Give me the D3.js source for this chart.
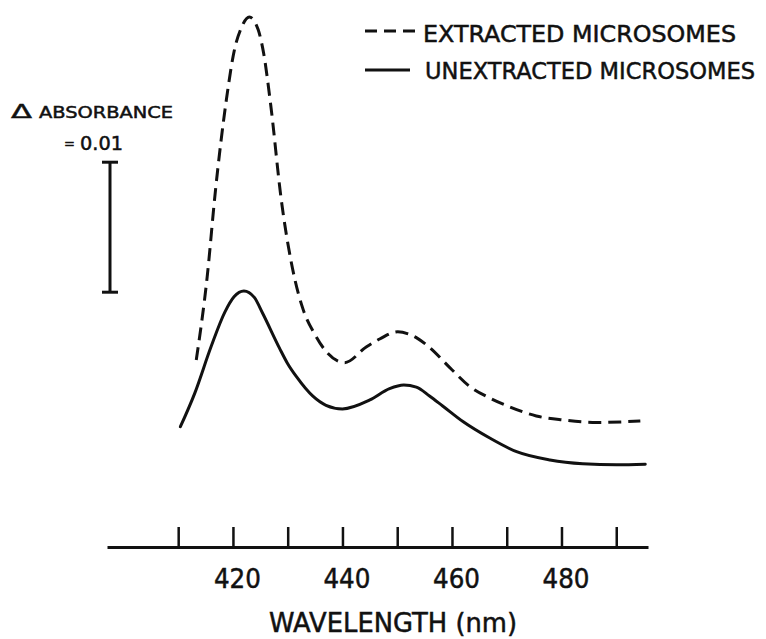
<!DOCTYPE html>
<html>
<head>
  <title>Microsome spectra</title>
  <script src="https://d3js.org/d3.v7.min.js"></script>
  <style type="text/css">
    body { margin: 0; background: #fff; }
    svg { font-family: "DejaVu Sans", sans-serif; }
    svg text { fill: #111; stroke: #111; stroke-width: 0.5; }
  </style>
</head>
<body>
  <div id="chart"></div>

  <script type="text/javascript">
    // wavelength (nm) and absorbance
    var solidNm = [410.4, 413.0, 416.0, 418.5, 420.2, 422.0, 423.9, 425.4, 428.5, 430.0, 431.6, 434.6, 437.0, 440.0,
      445.0, 448.6, 451.2, 453.5, 455.9, 458.3, 462.0, 466.9, 471.8, 477.9, 483.9, 490.1, 495.3];
    var solidAbs = [0.00925, 0.01180, 0.01540, 0.01805, 0.01925, 0.01970, 0.01920, 0.01800, 0.01530, 0.01410, 0.01310, 0.01160, 0.01090, 0.01062,
      0.01131, 0.01218, 0.01246, 0.01230, 0.01162, 0.01085, 0.00965, 0.00838, 0.00733, 0.00669, 0.00640, 0.00632, 0.00636];

    var dashedNm = [413.3, 415.3, 416.8, 418.8, 420.3, 421.4, 423.0, 424.6, 425.6, 426.9, 428.8, 431.3,
      432.8, 434.9, 437.1, 440.4, 444.4, 446.8, 450.1, 452.0, 453.7, 455.9, 459.6, 463.3, 466.9, 470.6,
      475.4, 480.3, 486.4, 494.4];
    var dashedAbs = [0.01438, 0.02080, 0.02740, 0.03440, 0.03830, 0.03980, 0.04077, 0.03980, 0.03800, 0.03400, 0.02680, 0.02060,
      0.01830, 0.01640, 0.01500, 0.01418, 0.01541, 0.01600, 0.01656, 0.01640, 0.01605, 0.01535, 0.01380, 0.01233, 0.01146, 0.01077,
      0.01008, 0.00977, 0.00958, 0.00969];

    var tickNm = [410, 420, 430, 440, 450, 460, 470, 480, 490];
    var legendLabels = ["EXTRACTED MICROSOMES", "UNEXTRACTED MICROSOMES"];
    var scaleBarBase = 0.0196, scaleBarSize = 0.01;

    var width = 766, height = 639;
    var axisY = 547;

    var svg = d3.select("#chart").append("svg")
      .attr("width", width)
      .attr("height", height);

    var x = d3.scaleLinear().domain([397, 495.8]).range([107, 648]);
    var y = d3.scaleLinear().domain([0, 0.04]).range([axisY, 27]);

    var line = d3.line()
      .x(function (d) { return x(d[0]); })
      .y(function (d) { return y(d[1]); })
      .curve(d3.curveMonotoneX);

    var solid = d3.zip(solidNm, solidAbs);
    var dashed = d3.zip(dashedNm, dashedAbs);

    svg.append("path")
      .datum(solid)
      .attr("d", line)
      .attr("fill", "none")
      .attr("stroke", "#111")
      .attr("stroke-width", 3)
      .attr("stroke-linecap", "round");

    svg.append("path")
      .datum(dashed)
      .attr("d", line)
      .attr("fill", "none")
      .attr("stroke", "#111")
      .attr("stroke-width", 3)
      .attr("stroke-dasharray", "13,7");

    // x axis, ticks pointing up
    var xAxis = d3.axisBottom(x)
      .tickValues(tickNm)
      .tickSizeInner(-20)
      .tickSizeOuter(0)
      .tickFormat(function (d) { return d % 20 === 0 ? d : ""; });

    var ax = svg.append("g")
      .attr("transform", "translate(0," + axisY + ")")
      .call(xAxis);
    ax.select(".domain").attr("stroke", "#111").attr("stroke-width", 3);
    ax.selectAll(".tick line").attr("stroke", "#111").attr("stroke-width", 2.5);
    ax.selectAll(".tick text")
      .attr("y", 41)
      .attr("dy", 0)
      .attr("dx", 4)
      .attr("font-size", 27)
      .attr("font-family", "DejaVu Sans")
      .attr("fill", "#111")
      .attr("textLength", function (d) { return d % 20 === 0 ? 47 : null; })
      .attr("lengthAdjust", "spacingAndGlyphs");

    svg.append("text")
      .attr("x", 269)
      .attr("y", 632)
      .attr("font-size", 26)
      .attr("textLength", 248)
      .attr("lengthAdjust", "spacingAndGlyphs")
      .text("WAVELENGTH (nm)");

    // legend
    svg.append("line")
      .attr("x1", 365).attr("x2", 416)
      .attr("y1", 31).attr("y2", 31)
      .attr("stroke", "#111").attr("stroke-width", 3)
      .attr("stroke-dasharray", "12,7");
    svg.append("line")
      .attr("x1", 365).attr("x2", 410)
      .attr("y1", 70).attr("y2", 70)
      .attr("stroke", "#111").attr("stroke-width", 3);
    svg.append("text")
      .attr("x", 423).attr("y", 42)
      .attr("font-size", 23)
      .attr("textLength", 313)
      .attr("lengthAdjust", "spacingAndGlyphs")
      .text(legendLabels[0]);
    svg.append("text")
      .attr("x", 425).attr("y", 79)
      .attr("font-size", 23)
      .attr("textLength", 330)
      .attr("lengthAdjust", "spacingAndGlyphs")
      .text(legendLabels[1]);

    // absorbance scale bar
    svg.append("text")
      .attr("x", 11).attr("y", 118)
      .attr("font-size", 20)
      .attr("textLength", 21)
      .attr("lengthAdjust", "spacingAndGlyphs")
      .text("Δ");
    svg.append("text")
      .attr("x", 39).attr("y", 118)
      .attr("font-size", 16)
      .attr("textLength", 134)
      .attr("lengthAdjust", "spacingAndGlyphs")
      .text("ABSORBANCE");
    svg.append("text")
      .attr("x", 64).attr("y", 148)
      .attr("font-size", 13)
      .text("=");
    svg.append("text")
      .attr("x", 80).attr("y", 150)
      .attr("font-size", 19)
      .attr("textLength", 43)
      .attr("lengthAdjust", "spacingAndGlyphs")
      .text("0.01");

    var barTop = y(scaleBarBase + scaleBarSize), barBot = y(scaleBarBase);
    var bar = svg.append("g").attr("stroke", "#111").attr("stroke-width", 3);
    bar.append("line").attr("x1", 110).attr("x2", 110).attr("y1", barTop).attr("y2", barBot);
    bar.append("line").attr("x1", 102).attr("x2", 118).attr("y1", barTop).attr("y2", barTop);
    bar.append("line").attr("x1", 102).attr("x2", 118).attr("y1", barBot).attr("y2", barBot);
  </script>
</body>
</html>
